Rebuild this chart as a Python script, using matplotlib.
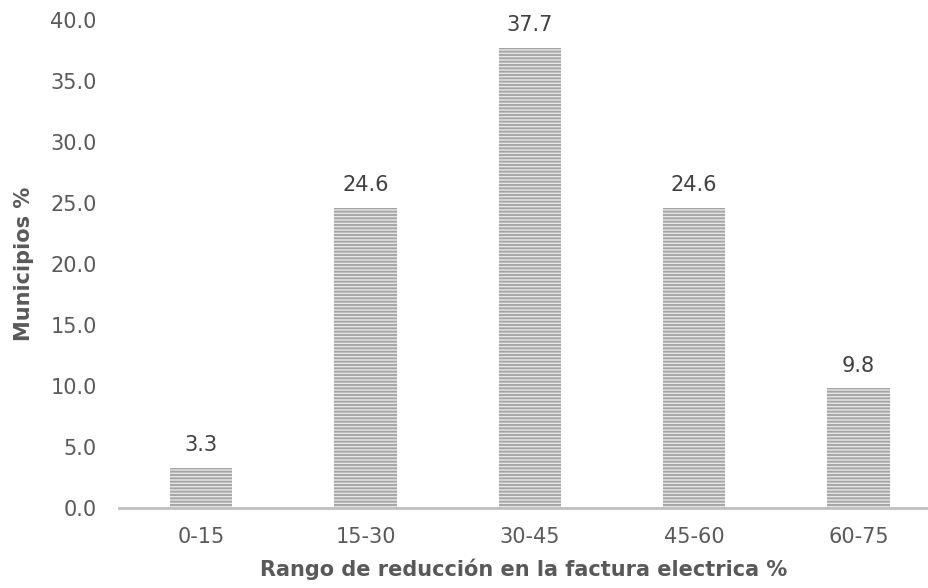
import matplotlib
matplotlib.use("Agg")
import matplotlib.pyplot as plt

rangos = ["0-15", "15-30", "30-45", "45-60", "60-75"]
municipios = [3.3, 24.6, 37.7, 24.6, 9.8]
yticks = [0, 5, 10, 15, 20, 25, 30, 35, 40]

plt.rcParams["font.family"] = ["DejaVu Sans"]
plt.rcParams["hatch.color"] = "#a6a6a6"
plt.rcParams["hatch.linewidth"] = 1.4

fig = plt.figure(figsize=(9.29, 5.88), dpi=100)
ax = fig.add_axes([119 / 929, 80 / 588, 1 - 119 / 929, 488 / 588])

x = list(range(len(rangos)))
bars = ax.bar(x, municipios, width=0.38, color="#e6e6e6", hatch="-----",
              edgecolor="#a6a6a6", linewidth=0)

for xi, v in zip(x, municipios):
    ax.text(xi, v + 1.05, f"{v:.1f}", ha="center", va="bottom",
            fontsize=15, color="#404040")

ax.set_xlim(-0.5, 4.43)
ax.set_ylim(0, 40)
ax.set_xticks(x)
ax.set_xticklabels(rangos)
ax.set_yticks(yticks)
ax.set_yticklabels([f"{t:.1f}" for t in yticks])
ax.tick_params(length=0, labelsize=15, colors="#595959")
ax.tick_params(axis="x", pad=14)
ax.tick_params(axis="y", pad=16)

for s in ["top", "right", "left"]:
    ax.spines[s].set_visible(False)
ax.spines["bottom"].set_color("#bfbfbf")
ax.spines["bottom"].set_linewidth(2)

ax.set_ylabel("Municipios %", fontsize=15, fontweight="bold", color="#595959", labelpad=12)
ax.set_xlabel("Rango de reducción en la factura electrica %", fontsize=15,
              fontweight="bold", color="#595959", labelpad=8)

fig.savefig("out.png", dpi=100)
